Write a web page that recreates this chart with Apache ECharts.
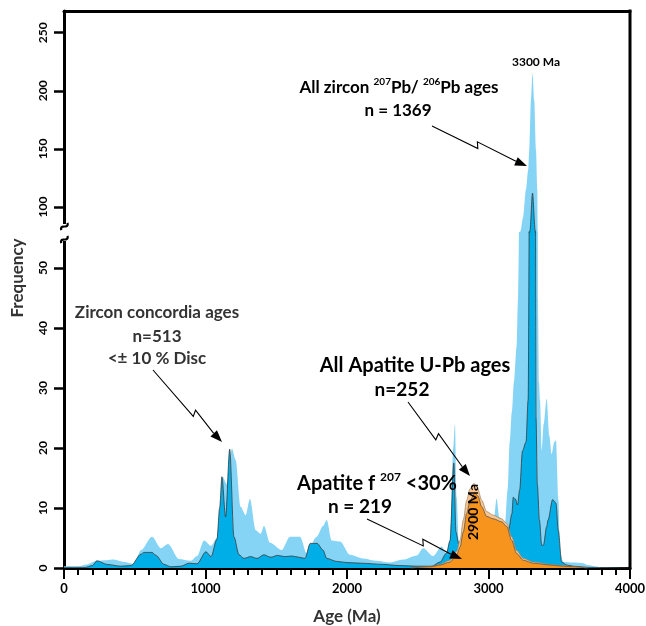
<!DOCTYPE html>
<html><head><meta charset="utf-8">
<script src="https://cdn.jsdelivr.net/npm/echarts@6/dist/echarts.min.js"></script>
<style>html,body{margin:0;padding:0;background:#fff}#c{width:646px;height:626px}</style>
</head><body><div id="c"></div>
<script>
// ---- data (age in Ma, frequency) ----
const zirconAllAge  = [0,100,160,233,300,353,424,495,545,622,685,735,813,897,940,990,1040,1080,1100,1121,1150,1187,1213,1248,1284,1314,1355,1390,1413,1456,1538,1597,1668,1715,1786,1830,1857,1892,1951,2021,2113,2210,2304,2396,2493,2539,2608,2669,2700,2728,2751,2763,2775,2790,2850,2950,3020,3040,3057,3077,3100,3117,3135,3150,3165,3180,3199,3208,3227,3244,3265,3281,3288,3300,3311,3323,3336,3345,3350,3357,3364,3376,3390,3411,3430,3446,3465,3477,3494,3505,3529,3600,3670,3700,3750,3800,3900,4000];
const zirconAllFreq = [0.3,0.3,0.6,1.2,1.3,1.4,1.0,0.7,3.0,5.2,3.3,4.0,1.5,1.2,2.0,4.6,3.7,5.0,9,15.2,14,19.9,18,10.2,8.8,11.5,6.3,5.7,7.0,4.2,3.0,5.2,5.2,2.5,5.2,7,8.0,4.6,4.4,2.2,1.6,1.2,0.9,1.4,2.1,3.3,2.0,3.6,2.5,4.6,20,24,11.8,4.5,5,6,7.5,8.5,11.6,8.5,8,7.5,13,21,26,31,37,44.5,80,91,115,132,149,192,215,192,149,115,45,31,28,19.6,24,28.2,22,19,21,21.3,11.3,2.5,1.0,0.9,0.8,0.5,0.3,0.1,0,0];

const zirconConcAge  = [0,150,200,233,304,403,473,544,565,622,650,707,756,827,883,940,1003,1039,1081,1100,1116,1142,1171,1201,1237,1272,1319,1364,1413,1460,1510,1560,1610,1660,1703,1740,1790,1830,1857,1927,2000,2100,2256,2374,2500,2600,2657,2704,2728,2755,2770,2790,2850,2950,3050,3140,3165,3175,3190,3205,3220,3240,3265,3280,3293,3311,3330,3336,3345,3360,3376,3388,3411,3421,3453,3477,3493,3517,3553,3600,3700,4000];
const zirconConcFreq = [0.1,0.1,0.4,1.2,0.6,0.3,0.4,2.3,2.6,2.6,2.1,0.6,0.2,0.3,0.8,0.7,2.7,1.9,4.8,10,15.2,8.5,19.8,5.2,2.2,1.6,1.9,1.6,2.2,1.8,2.1,1.9,2.0,1.8,1.6,4.1,4.1,3,1.6,1.1,0.9,0.8,0.6,0.4,0.3,0.3,1.0,2.5,4.6,17.5,6,4,3,3,4,6,9,11.8,11.5,10.5,13,19.5,21,28,80,112,80,25,14,8,3.8,3.8,6.9,8,11.4,10.8,6.3,1,0.5,0.3,0.1,0];

const apatiteAllAge  = [2450,2587,2657,2728,2775,2799,2822,2846,2869,2898,2920,2952,2987,3034,3093,3129,3164,3199,3246,3317,3435,3529,3600,3700];
const apatiteAllFreq = [0,0.2,0.6,1.3,2.8,4.6,8,11.3,13.2,14.1,13.5,11.3,9.4,8.8,8.2,7.4,5.2,2.9,1.6,1.0,0.6,0.4,0.2,0];

const apatiteFAge  = [2450,2587,2657,2728,2775,2799,2822,2846,2870,2905,2925,2952,2987,3034,3093,3129,3164,3199,3246,3317,3435,3529,3600,3700];
const apatiteFFreq = [0,0.2,0.5,1.0,2.2,3.5,6.0,9.1,11.3,12.5,12.0,10.2,8.6,8.2,7.7,6.9,4.6,2.4,1.3,0.8,0.5,0.3,0.2,0];

const xTickLabels = [0,1000,2000,3000,4000];
const yTicksLow  = [0,10,20,30,40,50];
const yTicksHigh = [100,150,200,250];

// ---- layout ----
const W=646,H=626, L=64, R=630, T=11, B=568, BRK=232;
const lowPxPerUnit = 6.0, hiPxPerUnit = 1.162, hi100 = 207;
const lowMax = (B-BRK)/lowPxPerUnit;
const hiMin = 100 - (BRK-hi100)/hiPxPerUnit;
const hiMax = 100 + (hi100-T)/hiPxPerUnit;
const FF = 'Lato, "Open Sans", sans-serif';

const pairs = (a,f)=>a.map((v,i)=>[v,f[i]]);
// for the upper (broken) panel keep only points above the break and their direct neighbours
const pairsAbove = (a,f,lim)=>a.map((v,i)=>[v,f[i]]).filter((p,i)=>f[i]>=lim||(i>0&&f[i-1]>=lim)||(i<f.length-1&&f[i+1]>=lim));
function area(data,color,lineColor,lw,gi,z){
  return {type:'line', xAxisIndex:gi, yAxisIndex:gi, data:data, smooth:0.3, smoothMonotone:'x',
    symbol:'none', silent:true, animation:false, z:z,
    lineStyle:{color:lineColor, width:lw, opacity: lw>0?1:0}, areaStyle:{color:color, opacity:1}};
}
const cLight='#86d4f5', cDark='#00aee7', cOrL='#f9c48e', cOr='#f7941d', cLine='#3a3a3a';

function arrow(S,E,t){
  const dx=E[0]-S[0], dy=E[1]-S[1], len=Math.hypot(dx,dy), ux=dx/len, uy=dy/len, nx=-uy, ny=ux;
  const P=[S[0]+dx*t, S[1]+dy*t];
  const M1=[P[0]+nx*3+ux*1.5, P[1]+ny*3+uy*1.5], M2=[P[0]-nx*3-ux*1.5, P[1]-ny*3-uy*1.5];
  const hl=12, hw=9;
  const bx=E[0]-ux*hl, by=E[1]-uy*hl;
  return [
    {type:'polyline', z:100, shape:{points:[S,M1,M2,[bx,by]]}, style:{stroke:'#000', lineWidth:1.1, fill:null}},
    {type:'polygon', z:100, shape:{points:[E,[bx+nx*hw/2,by+ny*hw/2],[bx-nx*hw/2,by-ny*hw/2]]}, style:{fill:'#000'}}
  ];
}
function txt(x,y,text,size,opts){
  return Object.assign({type:'text', x:x, y:y, z:100, style:Object.assign({text:text, font:'bold '+size+'px '+FF, fill:'#000', align:'center', verticalAlign:'middle'}, (opts&&opts.style)||{})}, (opts&&opts.el)||{});
}
function supText(x,y,parts,size,supSize){
  const s = parts.map(p=>'{'+(p[1]?'s':'m')+'|'+p[0]+'}').join('');
  return {type:'text', z:100, x:x, y:y, style:{text:s, align:'center', verticalAlign:'middle',
    rich:{m:{font:'bold '+size+'px '+FF, fill:'#000', lineHeight:size+5, verticalAlign:'middle'},
          s:{font:'bold '+supSize+'px '+FF, fill:'#000', lineHeight:size+5, verticalAlign:'top'}}}};
}

const chart = echarts.init(document.getElementById('c'), null, {renderer:'canvas'});
const axisBlack = {color:'#000', width:3};
chart.setOption({
  animation:false,
  backgroundColor:'#fff',
  grid:[
    {left:L, right:W-R, top:BRK, bottom:H-B, outerBoundsMode:'none'},
    {left:L, right:W-R, top:T, bottom:H-BRK, outerBoundsMode:'none'}
  ],
  xAxis:[
    {gridIndex:0, type:'value', min:0, max:4000, interval:1000,
     axisLine:{show:true, onZero:false, lineStyle:axisBlack},
     axisTick:{show:true, length:11, lineStyle:{color:'#000', width:2}},
     minorTick:{show:true, splitNumber:10, length:7, lineStyle:{color:'#000', width:2}},
     splitLine:{show:false}, minorSplitLine:{show:false},
     axisLabel:{color:'#000', fontSize:13, fontWeight:'bold', fontFamily:FF, margin:14,
       customValues:xTickLabels, formatter:v=>String(v)},
     name:'Age (Ma)', nameLocation:'middle', nameGap:40,
     nameTextStyle:{color:'#333', fontSize:17, fontWeight:'bold', fontFamily:FF}},
    {gridIndex:1, type:'value', min:0, max:4000, position:'top',
     axisLine:{show:true, onZero:false, lineStyle:axisBlack}, axisTick:{show:false}, axisLabel:{show:false}, splitLine:{show:false}}
  ],
  yAxis:[
    {gridIndex:0, type:'value', min:0, max:lowMax,
     axisLine:{show:true, onZero:false, lineStyle:axisBlack},
     axisTick:{show:true, length:10, lineStyle:{color:'#000', width:2.5}, customValues:yTicksLow},
     axisLabel:{customValues:yTicksLow, rotate:90, color:'#000', fontSize:12, fontWeight:'bold', fontFamily:FF, margin:15, formatter:v=>String(v)},
     splitLine:{show:false}},
    {gridIndex:1, type:'value', min:hiMin, max:hiMax,
     axisLine:{show:true, onZero:false, lineStyle:axisBlack},
     axisTick:{show:true, length:10, lineStyle:{color:'#000', width:2.5}, customValues:yTicksHigh},
     axisLabel:{customValues:yTicksHigh, rotate:90, color:'#000', fontSize:12, fontWeight:'bold', fontFamily:FF, margin:15, formatter:v=>String(v)},
     splitLine:{show:false}}
  ],
  series:[
    area(pairs(zirconAllAge, zirconAllFreq), cLight, cLight, 0, 0, 1),
    area(pairs(zirconConcAge, zirconConcFreq), cDark, cLine, 0.8, 0, 2),
    area(pairs(apatiteAllAge, apatiteAllFreq), cOrL, '#a58b6c', 0.8, 0, 3),
    area(pairs(apatiteFAge, apatiteFFreq), cOr, '#555', 0.8, 0, 4),
    area(pairsAbove(zirconAllAge, zirconAllFreq, hiMin), cLight, cLight, 0, 1, 1),
    area(pairsAbove(zirconConcAge, zirconConcFreq, hiMin), cDark, cLine, 0.8, 1, 2)
  ],
  graphic:[
    {type:'line', z:100, shape:{x1:R, y1:T-1.5, x2:R, y2:B+1.5}, style:{stroke:'#000', lineWidth:3}},
    {type:'rect', z:100, shape:{x:L-6, y:BRK-8, width:12, height:17}, style:{fill:'#fff'}},
    txt(L, BRK-6, '~', 22, {el:{rotation:0.4}}),
    txt(L, BRK+7, '~', 22, {el:{rotation:0.4}}),
    txt(18, 278, 'Frequency', 17, {el:{rotation:Math.PI/2}, style:{fill:'#333'}}),
    txt(536, 62, '3300 Ma', 12),
    supText(399, 88, [['All zircon ',0],['207',1],['Pb/ ',0],['206',1],['Pb ages',0]], 17, 10),
    txt(398, 111, 'n = 1369', 17),
    txt(157, 313, 'Zircon concordia ages', 17, {style:{fill:'#333'}}),
    txt(157, 337, 'n=513', 17, {style:{fill:'#333'}}),
    txt(157, 359, '<± 10 % Disc', 17, {style:{fill:'#333'}}),
    txt(415, 366, 'All Apatite U-Pb ages', 20),
    txt(402, 390, 'n=252', 19),
    supText(377, 484, [['Apatite f ',0],['207',1],[' <30%',0]], 20, 12),
    txt(360, 507, 'n = 219', 19),
    txt(473, 512, '2900 Ma', 14, {el:{rotation:Math.PI/2}}),
    ...arrow([432,126],[527,166],0.48),
    ...arrow([153,370],[222,442],0.6),
    ...arrow([408,402],[470,476],0.47),
    ...arrow([367,519],[462,559],0.59)
  ]
});
</script></body></html>
